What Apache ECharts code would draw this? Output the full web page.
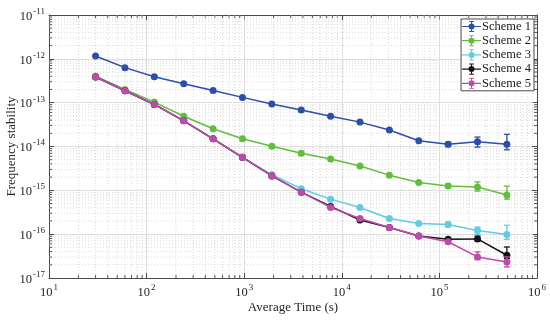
<!DOCTYPE html>
<html>
<head>
<meta charset="utf-8">
<script src="https://cdn.jsdelivr.net/npm/echarts@6/dist/echarts.min.js"></script>
<style>html,body{margin:0;padding:0;background:#fff;}#c{width:550px;height:320px;}</style>
</head>
<body>
<div id="c"></div>
<script>
var averageTimes = [30, 60, 120, 240, 480, 960, 1920, 3840, 7680, 15360, 30720, 61440, 122880, 245760, 491520];
var seriesNames = ['Scheme 1', 'Scheme 2', 'Scheme 3', 'Scheme 4', 'Scheme 5'];
var scheme1 = [1.16e-12, 6.3e-13, 3.9e-13, 2.7e-13, 1.9e-13, 1.32e-13, 9.3e-14, 6.8e-14, 4.9e-14, 3.6e-14, 2.37e-14, 1.35e-14, 1.12e-14, 1.28e-14, 1.12e-14];
var scheme2 = [4.0e-13, 2.0e-13, 1.03e-13, 4.9e-14, 2.54e-14, 1.5e-14, 1.01e-14, 7.0e-15, 5.2e-15, 3.6e-15, 2.22e-15, 1.51e-15, 1.25e-15, 1.19e-15, 7.8e-16];
var scheme3 = [3.85e-13, 1.88e-13, 9.2e-14, 3.9e-14, 1.5e-14, 5.6e-15, 2.27e-15, 1.09e-15, 6.3e-16, 4.07e-16, 2.28e-16, 1.75e-16, 1.66e-16, 1.21e-16, 9.8e-17];
var scheme4 = [3.84e-13, 1.87e-13, 9.1e-14, 3.86e-14, 1.5e-14, 5.67e-15, 2.13e-15, 9.1e-16, 4.3e-16, 2.1e-16, 1.42e-16, 9.1e-17, 7.7e-17, 7.8e-17, 3.3e-17];
var scheme5 = [3.84e-13, 1.87e-13, 9.1e-14, 3.86e-14, 1.5e-14, 5.67e-15, 2.13e-15, 9.1e-16, 4.07e-16, 2.28e-16, 1.42e-16, 9.1e-17, 6.7e-17, 3.03e-17, 2.33e-17];
// error bar bounds (lower, upper); null = not visible
var scheme1Low  = [null, null, null, null, null, null, null, null, null, null, null, null, 9.9e-15, 9.7e-15, 8.4e-15];
var scheme1High = [null, null, null, null, null, null, null, null, null, null, null, null, 1.26e-14, 1.64e-14, 1.89e-14];
var scheme2Low  = [null, null, null, null, null, null, null, null, null, null, null, null, 1.12e-15, 9.6e-16, 6.3e-16];
var scheme2High = [null, null, null, null, null, null, null, null, null, null, null, null, 1.39e-15, 1.56e-15, 1.25e-15];
var scheme3Low  = [null, null, null, null, null, null, null, null, null, null, null, null, 1.45e-16, 9.8e-17, 7.6e-17];
var scheme3High = [null, null, null, null, null, null, null, null, null, null, null, null, 1.88e-16, 1.45e-16, 1.6e-16];
var scheme4Low  = [null, null, null, null, null, null, null, null, null, null, null, null, null, 6.9e-17, 2.8e-17];
var scheme4High = [null, null, null, null, null, null, null, null, null, null, null, null, null, 9.0e-17, 5.1e-17];
var scheme5Low  = [null, null, null, null, null, null, null, null, null, null, null, null, null, 2.64e-17, 1.79e-17];
var scheme5High = [null, null, null, null, null, null, null, null, null, null, null, null, null, 3.95e-17, 3.03e-17];
var xTickExponents = [1, 2, 3, 4, 5, 6];
var yTickExponents = [-17, -16, -15, -14, -13, -12, -11];

var colors = ['#2b4ea8', '#63bd3c', '#62cbe2', '#141414', '#c04aa8'];
var allValues = [scheme1, scheme2, scheme3, scheme4, scheme5];
var allLow = [scheme1Low, scheme2Low, scheme3Low, scheme4Low, scheme5Low];
var allHigh = [scheme1High, scheme2High, scheme3High, scheme4High, scheme5High];

var FONT = '"Liberation Serif", "Times New Roman", serif';

// minor grid positions (2..9 x 10^k)
var xMinor = [], yMinor = [];
for (var e = 1; e < 6; e++) for (var m = 2; m <= 9; m++) xMinor.push(m * Math.pow(10, e));
for (var e2 = -17; e2 < -11; e2++) for (var m2 = 2; m2 <= 9; m2++) yMinor.push(parseFloat((m2 + 'e' + e2)));

function supFmt(v) {
  var ex = Math.round(Math.log10(v));
  return '{b|10}{s|' + ex + '}';
}
var richLab = {
  b: { fontSize: 12.5, fontFamily: FONT, color: '#262626', lineHeight: 16, verticalAlign: 'bottom' },
  s: { fontSize: 9, fontFamily: FONT, color: '#262626', lineHeight: 16, verticalAlign: 'top', padding: [0, 0, 0, 1] }
};

var chart = echarts.init(document.getElementById('c'), null, { renderer: 'canvas' });

var series = [];
// minor grid + minor ticks (x)
series.push({
  type: 'custom', name: 'xminor', silent: true, z: 1,
  data: xMinor.map(function (v) { return [v, 1e-14]; }),
  renderItem: function (params, api) {
    var cs = params.coordSys;
    var x = api.coord([api.value(0), api.value(1)])[0];
    var st = { stroke: '#d9d9d9', lineWidth: 1, lineDash: [1, 2] };
    var tk = { stroke: '#555', lineWidth: 1 };
    return { type: 'group', children: [
      { type: 'line', shape: { x1: x, y1: cs.y, x2: x, y2: cs.y + cs.height }, style: st },
      { type: 'line', shape: { x1: x, y1: cs.y + cs.height, x2: x, y2: cs.y + cs.height - 3 }, style: tk },
      { type: 'line', shape: { x1: x, y1: cs.y, x2: x, y2: cs.y + 3 }, style: tk }
    ]};
  }
});
series.push({
  type: 'custom', name: 'yminor', silent: true, z: 1,
  data: yMinor.map(function (v) { return [1000, v]; }),
  renderItem: function (params, api) {
    var cs = params.coordSys;
    var y = api.coord([api.value(0), api.value(1)])[1];
    var st = { stroke: '#d9d9d9', lineWidth: 1, lineDash: [1, 2] };
    var tk = { stroke: '#555', lineWidth: 1 };
    return { type: 'group', children: [
      { type: 'line', shape: { x1: cs.x, y1: y, x2: cs.x + cs.width, y2: y }, style: st },
      { type: 'line', shape: { x1: cs.x, y1: y, x2: cs.x + 3, y2: y }, style: tk },
      { type: 'line', shape: { x1: cs.x + cs.width, y1: y, x2: cs.x + cs.width - 3, y2: y }, style: tk }
    ]};
  }
});

for (var i = 0; i < 5; i++) {
  (function (i) {
    series.push({
      type: 'line', name: seriesNames[i],
      data: averageTimes.map(function (t, k) { return [t, allValues[i][k]]; }),
      symbol: 'circle', symbolSize: 7, showSymbol: true,
      lineStyle: { color: colors[i], width: 1.5 },
      itemStyle: { color: colors[i] },
      z: 3 + i, animation: false
    });
    var ed = [];
    averageTimes.forEach(function (t, k) {
      if (allLow[i][k] != null) ed.push([t, allLow[i][k], allHigh[i][k]]);
    });
    series.push({
      type: 'custom', name: seriesNames[i] + ' err', silent: true, z: 3 + i,
      data: ed,
      renderItem: function (params, api) {
        var p1 = api.coord([api.value(0), api.value(1)]);
        var p2 = api.coord([api.value(0), api.value(2)]);
        var st = { stroke: colors[i], lineWidth: 1.3 };
        var hw = 3;
        return { type: 'group', children: [
          { type: 'line', shape: { x1: p1[0], y1: p1[1], x2: p2[0], y2: p2[1] }, style: st },
          { type: 'line', shape: { x1: p1[0] - hw, y1: p1[1], x2: p1[0] + hw, y2: p1[1] }, style: st },
          { type: 'line', shape: { x1: p2[0] - hw, y1: p2[1], x2: p2[0] + hw, y2: p2[1] }, style: st }
        ]};
      }
    });
  })(i);
}

var legendIcon = 'path://M0,7.25H24V8.75H0Z M11.35,1H12.65V15H11.35Z M9,1H15V2.2H9Z M9,13.8H15V15H9Z M12,4.2A3.8,3.8,0,1,1,11.99,4.2Z';

var axisLineStyle = { color: '#4a4a4a', width: 1 };
var option = {
  animation: false,
  backgroundColor: '#ffffff',
  grid: { left: 49, right: 13, top: 15, bottom: 42, containLabel: false, outerBoundsMode: 'none' },
  legend: {
    data: seriesNames,
    orient: 'vertical',
    right: 16, top: 19,
    backgroundColor: '#ffffff',
    borderColor: '#4a4a4a', borderWidth: 1, borderRadius: 0,
    padding: [1, 3, 1, 1],
    itemGap: 1.2,
    itemWidth: 19, itemHeight: 13,
    icon: legendIcon,
    textStyle: { fontFamily: FONT, fontSize: 12.5, color: '#1a1a1a', padding: [0, 0, 0, -4] }
  },
  xAxis: [{
    type: 'log', logBase: 10, min: 10, max: 1e6,
    name: 'Average Time (s)', nameLocation: 'middle', nameGap: 23, nameMoveOverlap: false,
    nameTextStyle: { fontFamily: FONT, fontSize: 13, color: '#262626', verticalAlign: 'top' },
    axisLine: { show: true, lineStyle: axisLineStyle },
    axisTick: { show: true, inside: true, length: 5, lineStyle: axisLineStyle },
    axisLabel: { formatter: supFmt, rich: richLab, margin: 5 },
    splitLine: { show: true, lineStyle: { color: '#dedede', width: 1 } }
  }, {
    type: 'log', logBase: 10, min: 10, max: 1e6, position: 'top',
    axisLine: { show: true, lineStyle: axisLineStyle },
    axisTick: { show: true, inside: true, length: 5, lineStyle: axisLineStyle },
    axisLabel: { show: false }, splitLine: { show: false }
  }],
  yAxis: [{
    type: 'log', logBase: 10, min: 1e-17, max: 1e-11,
    name: 'Frequency stability', nameLocation: 'middle', nameGap: 31, nameMoveOverlap: false,
    nameTextStyle: { fontFamily: FONT, fontSize: 13, color: '#262626' },
    axisLine: { show: true, lineStyle: axisLineStyle },
    axisTick: { show: true, inside: true, length: 5, lineStyle: axisLineStyle },
    axisLabel: { formatter: supFmt, rich: richLab, margin: 4 },
    splitLine: { show: true, lineStyle: { color: '#dedede', width: 1 } }
  }, {
    type: 'log', logBase: 10, min: 1e-17, max: 1e-11, position: 'right',
    axisLine: { show: true, lineStyle: axisLineStyle },
    axisTick: { show: true, inside: true, length: 5, lineStyle: axisLineStyle },
    axisLabel: { show: false }, splitLine: { show: false }
  }],
  series: series
};
chart.setOption(option);
</script>
</body>
</html>
